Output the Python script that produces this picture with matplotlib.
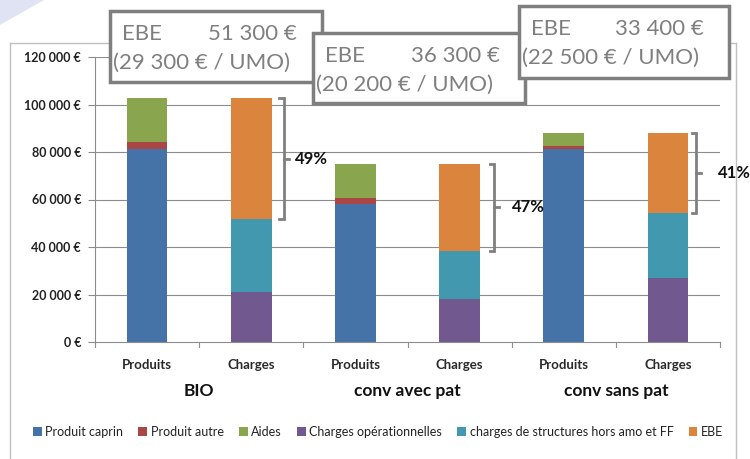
import matplotlib
matplotlib.use("Agg")
import matplotlib.pyplot as plt
from matplotlib.patches import Rectangle, Polygon
from matplotlib.lines import Line2D
from matplotlib.transforms import blended_transform_factory
import numpy as np

plt.rcParams['font.family'] = ['Lato', 'DejaVu Sans']

# ---------------- data ----------------
groups = ["BIO", "conv avec pat", "conv sans pat"]
bar_labels = ["Produits", "Charges", "Produits", "Charges", "Produits", "Charges"]

# Produits bars
produit_caprin = [81300, 58100, 81400]
produit_autre = [3000, 2400, 1300]
aides = [18600, 14300, 5200]
# Charges bars
charges_ope = [21000, 18100, 26800]
charges_struct = [30600, 20400, 27700]
ebe = [51300, 36300, 33400]

ebe_text = ["51 300 €", "36 300 €", "33 400 €"]
umo_text = ["(29 300 € / UMO)", "(20 200 € / UMO)", "(22 500 € / UMO)"]
pct_text = ["49%", "47%", "41%"]

yticks = [0, 20000, 40000, 60000, 80000, 100000, 120000]
ytick_labels = ["0 €", "20 000 €", "40 000 €", "60 000 €", "80 000 €", "100 000 €", "120 000 €"]

series_names = ["Produit caprin", "Produit autre", "Aides", "Charges opérationnelles",
                "charges de structures hors amo et FF", "EBE"]
colors = ["#4572A7", "#AA4643", "#89A54E", "#71588F", "#4198AF", "#DB843D"]

# ---------------- figure ----------------
W, H = 750, 459
fig = plt.figure(figsize=(7.5, 4.59), dpi=100)
fig.patch.set_facecolor("white")

def fx(px):
    return px / W

def fy(py):
    return 1 - py / H

# decoration top-left
fig.patches.append(Polygon([[fx(0), fy(0)], [fx(44), fy(0)], [fx(0), fy(25)]],
                           closed=True, transform=fig.transFigure,
                           facecolor="#dfe3f4", edgecolor="none", zorder=0))
# outer chart frame
frame_c = "#c0c0c0"
fig.add_artist(Line2D([fx(10), fx(10)], [fy(43), fy(459)], color=frame_c, lw=1, transform=fig.transFigure))
fig.add_artist(Line2D([fx(10), fx(736)], [fy(43), fy(43)], color=frame_c, lw=1, transform=fig.transFigure))
fig.add_artist(Line2D([fx(736), fx(736)], [fy(43), fy(459)], color=frame_c, lw=1, transform=fig.transFigure))

ax = fig.add_axes([fx(95), fy(342), fx(720) - fx(95), fy(57) - fy(342)])
ax.set_facecolor("none")

x = np.arange(6)
width = 0.39
prod_x = x[0::2]
char_x = x[1::2]

grid_c = "#8c8c8c"
for yv in yticks[1:]:
    ax.axhline(yv, color=grid_c, lw=0.8, zorder=0)

handles = []
b = np.zeros(3)
for vals, c in zip([produit_caprin, produit_autre, aides], colors[:3]):
    h = ax.bar(prod_x, vals, width, bottom=b, color=c, zorder=2)
    handles.append(h)
    b = b + np.array(vals)
prod_tot = b.copy()
b = np.zeros(3)
for vals, c in zip([charges_ope, charges_struct, ebe], colors[3:]):
    h = ax.bar(char_x, vals, width, bottom=b, color=c, zorder=2)
    handles.append(h)
    b = b + np.array(vals)
char_tot = b.copy()
struct_top = np.array(charges_ope) + np.array(charges_struct)

ax.set_xlim(-0.5, 5.5)
ax.set_ylim(0, 120000)
ax.set_yticks(yticks)
ax.set_yticklabels(ytick_labels, fontsize=9, fontweight="bold", color="#222222")
ax.set_xticks(x)
ax.set_xticklabels(bar_labels, fontsize=9.5, fontweight="bold", color="#2a2a2a")
ax.tick_params(axis="x", length=0, pad=12)
ax.tick_params(axis="y", length=5, color=grid_c, pad=5)
# category boundary ticks on x axis
for xb in np.arange(-0.5, 6.0, 1.0):
    ax.plot([xb, xb], [0, -2000], color=grid_c, lw=0.8, clip_on=False, zorder=3)
for s in ["top", "right"]:
    ax.spines[s].set_visible(False)
ax.spines["left"].set_color(grid_c)
ax.spines["bottom"].set_color(grid_c)
ax.spines["left"].set_linewidth(0.8)
ax.spines["bottom"].set_linewidth(0.8)

# group labels
trans = blended_transform_factory(ax.transData, fig.transFigure)
for i, g in enumerate(groups):
    ax.text(2 * i + 0.5, fy(391), g, transform=trans, ha="center", va="center",
            fontsize=12.5, fontweight="bold", color="#111111")

# brackets
br_c = "#808080"
br_off = [0.31, 0.33, 0.27]
lab_off = [0.42, 0.50, 0.48]
for i in range(3):
    cx = char_x[i]
    xb = cx + br_off[i]
    top, bot = char_tot[i], struct_top[i]
    mid = (top + bot) / 2
    ax.plot([xb - 0.04, xb, xb, xb - 0.04], [top, top, bot, bot], color=br_c, lw=2,
            clip_on=False, zorder=4, solid_joinstyle="miter")
    ax.plot([xb, xb + 0.05], [mid, mid], color=br_c, lw=2, clip_on=False, zorder=4)
    ax.text(cx + lab_off[i], mid, pct_text[i], ha="left", va="center", fontsize=12,
            fontweight="bold", color="#111111", clip_on=False)

# legend
fig.legend(handles, series_names, loc="center", bbox_to_anchor=(fx(378), fy(432)), ncol=6,
           frameon=False, fontsize=9.0, handlelength=0.7, handleheight=0.7,
           handletextpad=0.3, columnspacing=1.2, labelcolor="#222222")

# EBE boxes (left, top, right, bottom) in pixels
boxes = [(110, 11, 322, 82), (313, 33, 525, 103), (519, 6, 729, 78)]
for i, (l, t, r, bt) in enumerate(boxes):
    fig.patches.append(Rectangle((fx(l), fy(bt)), fx(r) - fx(l), fy(t) - fy(bt),
                                 transform=fig.transFigure, facecolor="white",
                                 edgecolor="#7f7f7f", lw=2.5, zorder=10 + i))
    fig.text(fx(l + 12), fy(t + 23), "EBE", ha="left", va="center", fontsize=16,
             color="#7f7f7f", zorder=10 + i)
    fig.text(fx(r - 25), fy(t + 23), ebe_text[i], ha="right", va="center", fontsize=16,
             color="#7f7f7f", zorder=10 + i)
    fig.text(fx(l + 3), fy(t + 52), umo_text[i], ha="left", va="center", fontsize=16,
             color="#7f7f7f", zorder=10 + i)

fig.savefig("out.png", dpi=100)
